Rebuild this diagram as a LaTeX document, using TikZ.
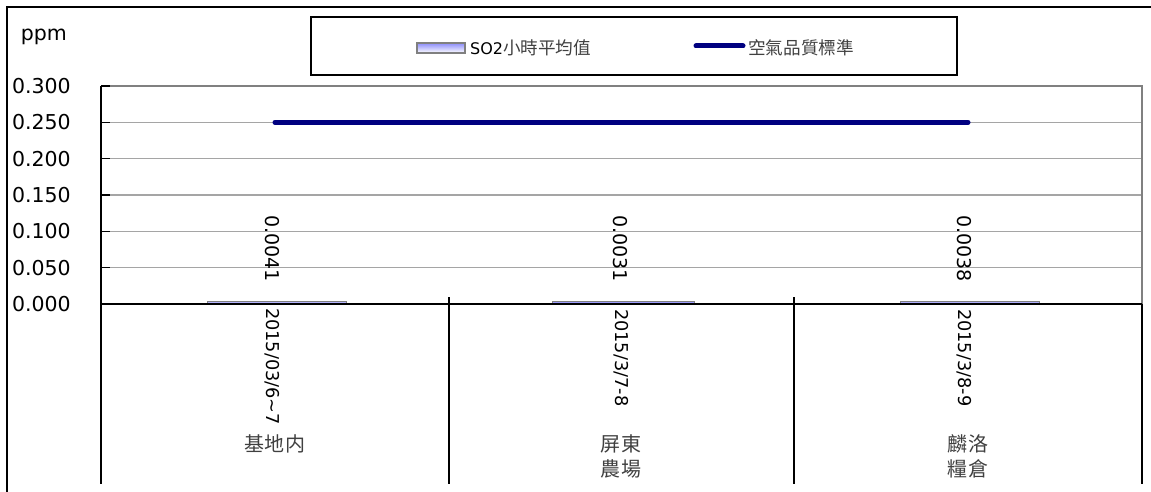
\documentclass[tikz,border=0pt]{standalone}
\usepackage{fontspec}
\setmainfont{DejaVu Sans}
\newfontfamily\cjk[Scale=1.1]{Noto Sans CJK TC}
\usetikzlibrary{positioning}
\definecolor{navyline}{RGB}{0,0,128}
\definecolor{gridgray}{RGB}{165,165,165}
\definecolor{framegray}{RGB}{128,128,128}
\definecolor{barblue}{RGB}{140,140,250}
\newcommand{\axisy}{304}
\newcommand{\catlow}{484}

\begin{document}
\begin{tikzpicture}[x=1pt,y=-1pt,
    gridline/.style={draw=gridgray,line width=1.3pt},
    axisline/.style={draw=black,line width=2pt},
    barbox/.style={draw=framegray,line width=1pt,top color=barblue,bottom color=white},
    stdline/.style={draw=navyline,line width=5pt,line cap=round}]
    \useasboundingbox (0,0) rectangle (1151,492);

    % outer frame
    \draw[line width=2pt] (1151,7) -- (7,7) -- (7,492);

    % grid
    \draw[gridline] (101,122.3) -- (1142,122.3);
    \draw[gridline] (101,158.7) -- (1142,158.7);
    \draw[gridline] (101,195) -- (1142,195);
    \draw[gridline] (101,231.3) -- (1142,231.3);
    \draw[gridline] (101,267.7) -- (1142,267.7);
    \draw[draw=framegray,line width=1.5pt] (101,86) -- (1142,86) -- (1142,\axisy);

    % bars
    \draw[barbox] (207,\axisy) rectangle (346,301);
    \draw[barbox] (552,\axisy) rectangle (694,301.7);
    \draw[barbox] (900,\axisy) rectangle (1039,301.2);

    % axes and ticks
    \draw[axisline] (101,86) -- (101,\catlow);
    \draw[axisline] (101,\axisy) -- (1142,\axisy);
    \draw[axisline] (449,297) -- (449,\catlow);
    \draw[axisline] (794,297) -- (794,\catlow);
    \draw[axisline] (1142,\axisy) -- (1142,\catlow);
    \draw[line width=1.5pt] (101,86) -- (110,86);
    \draw[line width=1.5pt] (101,122.3) -- (110,122.3);
    \draw[line width=1.5pt] (101,158.7) -- (110,158.7);
    \draw[line width=1.5pt] (101,195) -- (110,195);
    \draw[line width=1.5pt] (101,231.3) -- (110,231.3);
    \draw[line width=1.5pt] (101,267.7) -- (110,267.7);

    % air quality standard
    \coordinate (stdA) at (275,122.3);
    \coordinate (stdB) at (968,122.3);
    \draw[stdline] (stdA) -- (stdB);

    \begin{scope}[every node/.style={anchor=east,inner sep=0pt,font=\fontsize{20.5}{24}\selectfont}]
        \node (ppm) at (67,37) {ppm};
        \node (t300) at (71,86) {0.300};
        \node (t250) at (71,122.3) {0.250};
        \node (t200) at (71,158.7) {0.200};
        \node (t150) at (71,195) {0.150};
        \node (t100) at (71,231.3) {0.100};
        \node (t050) at (71,267.7) {0.050};
        \node (t000) at (71,\axisy) {0.000};
    \end{scope}

    \begin{scope}[every node/.style={anchor=west,rotate=-90,inner sep=0pt,font=\fontsize{19}{22}\selectfont}]
        \node (va) at (272,215) {0.0041};
        \node (vb) at (620,215) {0.0031};
        \node (vc) at (964,215) {0.0038};
    \end{scope}

    \begin{scope}[every node/.style={anchor=west,rotate=-90,inner sep=0pt,font=\fontsize{17.7}{21}\selectfont}]
        \node (da) at (272,308) {2015/03/6\char`\~7};
        \node (db) at (621,309) {2015/3/7-8};
        \node (dc) at (964,309) {2015/3/8-9};
    \end{scope}

    \begin{scope}[every node/.style={anchor=north,align=center,inner sep=0pt,text=black!75,
            font=\fontsize{18.2}{25}\selectfont\cjk}]
        \node (ca) at (275,434) {基地内};
        \node (cb) at (621,434) {屏東\\農場};
        \node (cc) at (968,434) {麟洛\\糧倉};
    \end{scope}

    % legend
    \draw[line width=1.5pt] (311,17) rectangle (957,75);
    \draw[draw=framegray,line width=1.5pt,top color=barblue,bottom color=white] (417,43) rectangle (465,53);
    \node[anchor=west,inner sep=0pt,font=\fontsize{16}{19}\selectfont] (legbar) at (470,48) {SO2{\cjk\color{black!75}小時平均值}};
    \coordinate (legA) at (696,46);
    \coordinate (legB) at (743,46);
    \draw[stdline] (legA) -- (legB);
    \node[anchor=west,inner sep=0pt,text=black!75,font=\fontsize{16}{19}\selectfont\cjk] (legstd) at (748,48) {空氣品質標準};
\end{tikzpicture}
\end{document}
